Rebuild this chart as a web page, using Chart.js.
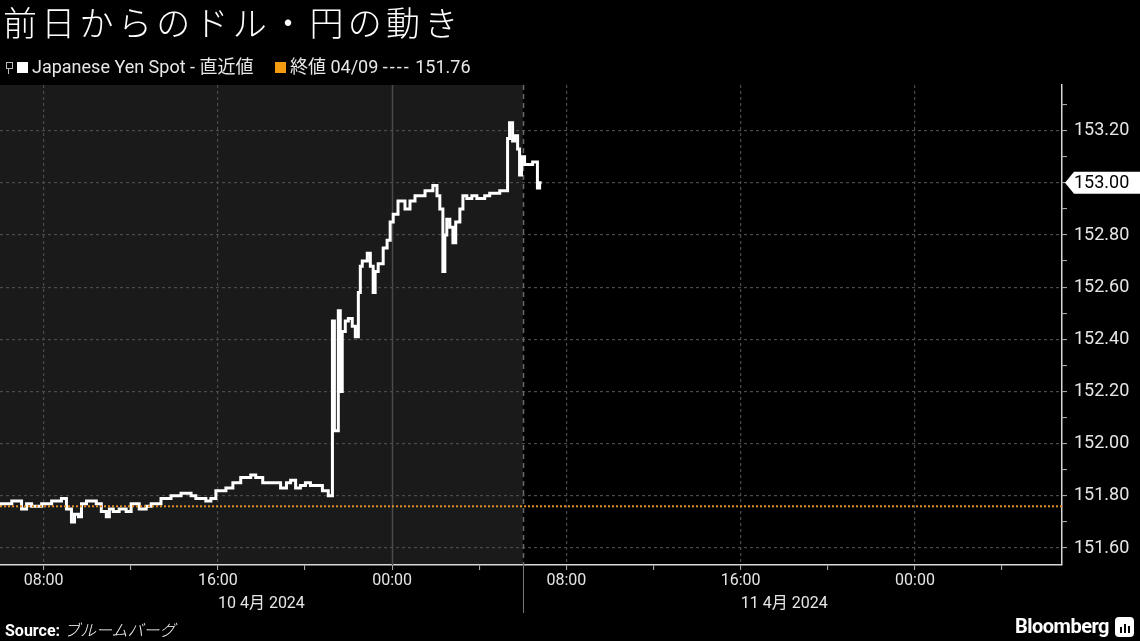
<!DOCTYPE html>
<html><head><meta charset="utf-8">
<script src="https://cdn.jsdelivr.net/npm/chart.js@4.4.1/dist/chart.umd.min.js"></script>
<style>
html,body{margin:0;padding:0;background:#000;width:1140px;height:641px;overflow:hidden;}
#wrap{position:relative;width:1140px;height:641px;}
#c{position:absolute;left:0;top:0;}
.title{position:absolute;left:3px;top:1px;color:#fff;font-family:"Noto Sans CJK JP",sans-serif;font-weight:300;font-size:34px;letter-spacing:4.3px;line-height:42px;white-space:nowrap;}
.leg{position:absolute;top:56px;color:#e8e8e8;font-family:Roboto,"Noto Sans CJK JP",sans-serif;font-size:18px;line-height:22px;white-space:nowrap;}
.leg .d{letter-spacing:2px;}
.sq{position:absolute;width:11px;height:11px;}
.src{position:absolute;left:5px;top:617px;color:#fff;font-family:Roboto,sans-serif;font-size:16px;white-space:nowrap;}
.src b{font-weight:700;}
.src span{font-family:"Noto Sans CJK JP",sans-serif;font-style:italic;font-weight:300;margin-left:4px;}
.logo{position:absolute;right:31px;top:614px;color:#fff;font-family:Roboto,sans-serif;font-weight:700;font-size:20px;letter-spacing:-0.5px;}
.icon{position:absolute;left:1115px;top:617px;width:19px;height:20px;background:#fff;border-radius:4px;}
.icon i{position:absolute;bottom:4px;width:2px;background:#000;}
</style></head>
<body><div id="wrap">
<canvas id="c" width="1140" height="641"></canvas>
<div class="title">前日からのドル・円の動き</div>
<div style="position:absolute;left:6px;top:62px;width:5px;height:5px;border:1px solid #bbb;"></div>
<div style="position:absolute;left:8px;top:69px;width:1px;height:5px;background:#bbb;"></div>
<div class="sq" style="left:17px;top:62px;background:#fff;"></div>
<div class="leg" style="left:32px;">Japanese Yen Spot - 直近値</div>
<div class="sq" style="left:275px;top:62px;background:#f39c12;"></div>
<div class="leg" style="left:290px;">終値 04/09 <span class="d">----</span> 151.76</div>
<div class="src"><b>Source:</b><span>ブルームバーグ</span></div>
<div class="logo">Bloomberg</div>
<div class="icon"><i style="left:5px;height:6px"></i><i style="left:9px;height:9px"></i><i style="left:13px;height:7px"></i></div>
</div>
<script>
// hours since 10 Apr 2024 00:00 (Tokyo)
const times = [6.00,6.54,6.99,7.22,7.45,7.91,8.37,8.82,9.05,9.28,
9.42,9.60,9.74,9.97,10.42,10.65,10.88,11.02,11.20,11.47,
11.79,12.02,12.39,12.71,12.94,13.39,13.85,14.08,14.31,14.77,
14.99,15.45,15.68,15.91,16.37,16.69,17.05,17.51,17.74,18.06,
18.42,18.88,19.15,19.34,19.57,19.79,20.02,20.25,20.62,20.80,
21.07,21.26,21.35,21.53,21.62,21.71,21.85,21.99,22.17,22.31,
22.45,22.54,22.63,22.86,23.00,23.13,23.22,23.36,23.59,23.77,
23.91,24.05,24.27,24.59,24.82,25.05,25.51,25.87,26.06,26.19,
26.33,26.42,26.51,26.65,26.79,26.92,27.11,27.25,27.43,27.66,
27.89,28.25,28.48,28.94,29.30,29.39,29.53,29.62,29.76,29.85,
29.94,30.08,30.22,30.45,30.67,30.77,30.86];
const prices = [151.76,151.77,151.78,151.75,151.77,151.76,151.77,151.78,151.79,151.75,
151.70,151.73,151.72,151.77,151.78,151.77,151.74,151.72,151.75,151.74,
151.75,151.74,151.77,151.75,151.76,151.77,151.79,151.80,151.80,151.81,
151.80,151.79,151.78,151.79,151.82,151.83,151.85,151.87,151.88,151.87,
151.85,151.85,151.83,151.85,151.86,151.83,151.84,151.85,151.84,151.84,
151.82,151.80,152.47,152.05,152.51,152.20,152.43,152.47,152.48,152.45,
152.41,152.58,152.68,152.70,152.73,152.68,152.58,152.66,152.69,152.75,
152.78,152.85,152.88,152.93,152.90,152.93,152.95,152.97,152.99,152.95,
152.90,152.66,152.80,152.86,152.83,152.77,152.85,152.90,152.95,152.94,
152.95,152.94,152.95,152.96,152.97,153.17,153.23,153.16,153.18,153.13,
153.03,153.10,153.07,153.07,153.08,152.98,153.00];
const prevClose = 151.76;
const yMajorTicks = [151.6,151.8,152.0,152.2,152.4,152.6,152.8,153.0,153.2];
const yMinorTicks = [151.7,151.9,152.1,152.3,152.5,152.7,152.9,153.1,153.3];
const xTicks = [8,12,16,20,24,28,32,36,40,44,48,52];
const xLabelHours = [8,16,24,32,40,48];
const days = [{label:'10 4月 2024',start:6,end:30},{label:'11 4月 2024',start:30,end:54}];
const xMin = 6, xMax = 54.75, yMin = 151.535, yMax = 153.375;

const lineData = times.map((t,i)=>({x:t,y:prices[i]}));
const closeData = [{x:xMin,y:prevClose},{x:xMax,y:prevClose}];

const isMajor = v => yMajorTicks.some(m=>Math.abs(m-v)<1e-6);

const deco = {
  id:'deco',
  beforeDraw(chart){
    const {ctx, chartArea:a, scales:{x}} = chart;
    ctx.save();
    ctx.fillStyle='#000';
    ctx.fillRect(0,0,chart.width,chart.height);
    const x0 = x.getPixelForValue(days[0].start), x1 = x.getPixelForValue(days[0].end);
    ctx.fillStyle='#1a1a1a';
    ctx.fillRect(Math.max(a.left,x0), a.top, x1-Math.max(a.left,x0), a.bottom-a.top);
    ctx.restore();
  },
  beforeDatasetsDraw(chart){
    const {ctx, chartArea:a, scales:{x}} = chart;
    ctx.save();
    const xm = Math.round(x.getPixelForValue(24))+0.5;
    ctx.strokeStyle='#4a4a4a'; ctx.lineWidth=1.5;
    ctx.beginPath(); ctx.moveTo(xm,a.top); ctx.lineTo(xm,a.bottom); ctx.stroke();
    const xd = Math.round(x.getPixelForValue(days[0].end))+0.5;
    ctx.strokeStyle='#6a6a6a'; ctx.setLineDash([5,4]); ctx.lineWidth=1.5;
    ctx.beginPath(); ctx.moveTo(xd,a.top); ctx.lineTo(xd,a.bottom); ctx.stroke();
    ctx.restore();
  },
  afterDraw(chart){
    const {ctx, chartArea:a, scales:{x,y}} = chart;
    ctx.save();
    const xd = Math.round(x.getPixelForValue(days[0].end))+0.5;
    ctx.strokeStyle='#777'; ctx.lineWidth=1;
    ctx.beginPath(); ctx.moveTo(xd,a.bottom); ctx.lineTo(xd,a.bottom+48); ctx.stroke();
    ctx.fillStyle='#e6e6e6';
    ctx.font='16px Roboto, "Noto Sans CJK JP"';
    ctx.textAlign='center'; ctx.textBaseline='middle';
    days.forEach(d=>{ ctx.fillText(d.label, x.getPixelForValue((d.start+d.end)/2), a.bottom+39); });
    // last value callout
    const last = prices[prices.length-1];
    const yp = y.getPixelForValue(last);
    const lx = a.right+3;
    ctx.fillStyle='#fff';
    ctx.beginPath();
    ctx.moveTo(lx,yp); ctx.lineTo(lx+9,yp-11); ctx.lineTo(chart.width,yp-11);
    ctx.lineTo(chart.width,yp+11); ctx.lineTo(lx+9,yp+11); ctx.closePath(); ctx.fill();
    ctx.fillStyle='#000'; ctx.textAlign='left';
    ctx.font='18px Roboto';
    ctx.fillText(last.toFixed(2), a.right+12, yp+1);
    ctx.restore();
  }
};

new Chart(document.getElementById('c'),{
  type:'line',
  data:{datasets:[
    {data:closeData,borderColor:'#e0902a',borderWidth:2,borderDash:[2,2],pointRadius:0,order:0},
    {data:lineData,borderColor:'#ffffff',borderWidth:3,stepped:'after',pointRadius:0,order:1}
  ]},
  options:{
    responsive:false,animation:false,
    layout:{padding:{top:85,left:0,right:0,bottom:0}},
    plugins:{legend:{display:false},tooltip:{enabled:false}},
    scales:{
      x:{type:'linear',min:xMin,max:xMax,
        afterBuildTicks:s=>{s.ticks=xTicks.map(v=>({value:v}));},
        afterFit:s=>{s.height=76;},
        grid:{color:c=>xLabelHours.includes(c.tick.value)&&c.tick.value!==24?'#4a4a4a':'rgba(0,0,0,0)',
              lineWidth:1.2,drawTicks:true,tickLength:5,tickColor:'#bbb',tickWidth:1},
        border:{display:true,color:'#d8d8d8',width:1.5,dash:[3,3]},
        ticks:{color:'#e6e6e6',font:{family:'Roboto',size:16},padding:1,maxRotation:0,autoSkip:false,
          callback:v=>xLabelHours.includes(v)?String(v%24).padStart(2,'0')+':00':''}
      },
      y:{position:'right',min:yMin,max:yMax,
        afterBuildTicks:s=>{s.ticks=[...yMajorTicks,...yMinorTicks].sort((a,b)=>a-b).map(v=>({value:v}));},
        afterFit:s=>{s.width=78;},
        grid:{color:c=>isMajor(c.tick.value)?'#4a4a4a':'rgba(0,0,0,0)',lineWidth:1.2,
              drawTicks:true,tickLength:5,tickColor:'#bbb',tickWidth:1},
        border:{display:true,color:'#d8d8d8',width:1.5,dash:[3,3]},
        ticks:{color:'#e6e6e6',font:{family:'Roboto',size:18},padding:7,autoSkip:false,
          callback:v=>isMajor(v)?v.toFixed(2):''}
      }
    }
  },
  plugins:[deco]
});
</script>
</body></html>
